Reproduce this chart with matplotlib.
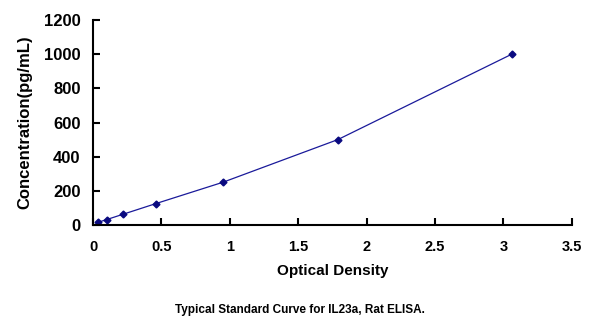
import matplotlib
matplotlib.use('Agg')
import matplotlib.pyplot as plt

# standard curve points
od = [0.038, 0.10, 0.22, 0.46, 0.95, 1.79, 3.06]
conc = [15.6, 31.25, 62.5, 125, 250, 500, 1000]
x_ticks = [0, 0.5, 1, 1.5, 2, 2.5, 3, 3.5]
y_ticks = [0, 200, 400, 600, 800, 1000, 1200]

plt.rcParams['font.family'] = ['Liberation Sans', 'DejaVu Sans']

fig = plt.figure(figsize=(6, 3.25), dpi=100)
ax = fig.add_axes([0.155, 0.308, 0.798, 0.630])

ax.plot(od, conc, color='#1a1a9a', lw=0.9, marker='D', markersize=3.5,
        markerfacecolor='#0a0a80', markeredgecolor='#0a0a80')

ax.set_xlim(0, 3.5)
ax.set_ylim(0, 1200)
ax.set_xticks(x_ticks)
ax.set_xticklabels([f'{t:g}' for t in x_ticks])
ax.set_yticks(y_ticks)
for s in ['top', 'right']:
    ax.spines[s].set_visible(False)
for s in ['left', 'bottom']:
    ax.spines[s].set_linewidth(1.5)
ax.tick_params(direction='in', length=5, width=1.5)
ax.tick_params(axis='x', labelsize=10.5, pad=11)
ax.tick_params(axis='y', labelsize=12, pad=9)
for lbl in ax.get_xticklabels() + ax.get_yticklabels():
    lbl.set_fontweight('bold')

ax.set_xlabel('Optical Density', fontsize=11, fontweight='bold', labelpad=7)
ax.set_ylabel('Concentration(pg/mL)', fontsize=12, fontweight='bold', labelpad=8)

fig.text(0.5, 0.046, 'Typical Standard Curve for IL23a, Rat ELISA.',
         ha='center', va='center', fontsize=8.5, fontweight='bold')

fig.savefig('out.png', dpi=100)
plt.close(fig)
